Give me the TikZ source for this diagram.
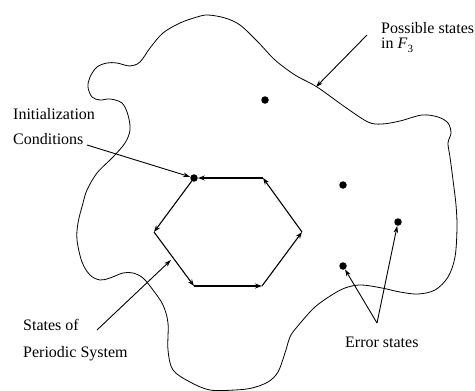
\documentclass[tikz,border=0pt]{standalone}
\usepackage{fontspec}
\setmainfont{Liberation Serif}
\usetikzlibrary{arrows.meta}
\tikzset{
  lbl/.style={anchor=base west, inner sep=0pt, font=\fontsize{16}{16}\selectfont},
  dotnode/.style={circle, fill=black, inner sep=0pt, minimum size=7.5pt},
  arr/.style={line width=0.9pt, -{Stealth[length=7pt,width=4.5pt,inset=2pt]}},
  hexe/.style={line width=1.1pt, -{Stealth[length=7pt,width=5pt,inset=2.5pt]}},
  blob/.style={line width=0.8pt},
}
\begin{document}
\begin{tikzpicture}[x=1pt,y=-1pt]
\useasboundingbox (0,0) rectangle (475,391);
% region outline
\draw[blob] plot[smooth cycle, tension=0.55] coordinates {
(208,15) (225,18) (240,25) (258,42) (275,60) (295,75) (317,87) (345,107)
(368,122) (382,124) (400,121) (422,115) (438,117) (448,123) (451,133)
(448,143) (450,157) (453,180) (456,205) (457,228) (455,257) (448,277)
(435,290) (418,294) (400,292) (382,288) (362,285) (348,287) (335,293)
(315,307) (297,327) (290,337) (285,353) (278,372) (268,382) (252,388)
(235,390) (210,390) (190,382) (173,370) (168,350) (168,323) (163,305)
(153,290) (143,278) (133,273) (123,273) (110,278) (100,280) (90,275)
(82,262) (77,240) (78,223) (83,203) (87,190) (97,173) (113,157)
(125,143) (130,130) (128,115) (122,103) (110,99) (100,100) (92,97)
(88,87) (90,77) (97,67) (107,63) (117,63) (130,66) (140,62) (150,48)
(163,33) (180,23) (197,17)};
% states
\node[dotnode] (tl) at (194,178) {};
\coordinate (tr) at (263,178);
\coordinate (r) at (302,232);
\coordinate (br) at (262,286);
\coordinate (bl) at (194,286);
\coordinate (l) at (154,232);
\node[dotnode] (s1) at (265,100) {};
\node[dotnode] (s2) at (343,185) {};
\node[dotnode] (e1) at (398,222) {};
\node[dotnode] (e2) at (343,266) {};
% hexagon cycle
\draw[hexe] (tl) -- (l);
\draw[hexe] (l) -- (bl);
\draw[hexe] (bl) -- (br);
\draw[hexe] (br) -- (r);
\draw[hexe] (r) -- (tr);
\draw[hexe] (tr) -- (tl);
% labels
\node[lbl] (ps) at (381,33) {Possible states};
\node[lbl] (inf) at (381,48) {in \textit{F}\raisebox{-4.5pt}{\fontsize{11}{11}\selectfont 3}};
\node[lbl] (ini) at (13,119) {Initialization};
\node[lbl] (cond) at (13,144) {Conditions};
\node[lbl] (sto) at (23,330) {States of};
\node[lbl] (per) at (23,357) {Periodic System};
\node[lbl] (err) at (345,347) {Error states};
% pointers
\coordinate (psA) at (367,35);
\coordinate (psB) at (316,87);
\coordinate (ciA) at (87,145);
\coordinate (soA) at (97,330);
\coordinate (soB) at (171,260);
\coordinate (erA) at (377,323);
\draw[arr] (psA) -- (psB);
\draw[arr] (ciA) -- (tl);
\draw[arr] (soA) -- (soB);
\draw[arr] (erA) -- (e2);
\draw[arr] (erA) -- (e1);
\end{tikzpicture}
\end{document}
